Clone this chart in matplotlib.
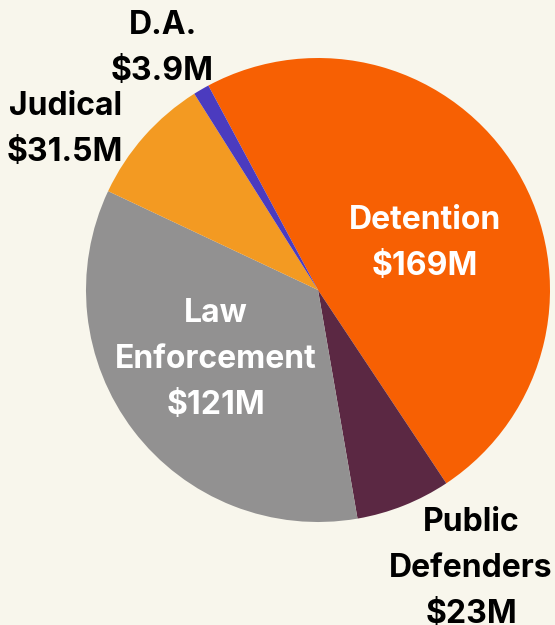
import numpy as np
import matplotlib.pyplot as plt

labels = ['Detention', 'Public\nDefenders', 'Law\nEnforcement', 'Judical', 'D.A.']
amounts = [169, 23, 121, 31.5, 3.9]
amount_text = ['$169M', '$23M', '$121M', '$31.5M', '$3.9M']
colors = ['#F76003', '#5B2843', '#929191', '#F39A22', '#4B3BBF']
text_colors = ['white', 'black', 'white', 'black', 'black']

# label placement, (x, y) offset from the pie centre in units of the radius
label_pos = [(0.46, 0.20), (0.66, -1.20), (-0.44, -0.30), (-1.09, 0.69), (-0.67, 1.04)]

bg = '#F8F6EC'
fig = plt.figure(figsize=(5.55, 6.25), dpi=100, facecolor=bg)
ax = fig.add_axes([0, 0, 1, 1])
ax.set_facecolor(bg)

cx, cy, r = 318, 335, 232
ax.pie(amounts, colors=colors, startangle=118.2, counterclock=False,
       center=(cx, cy), radius=r, frame=True,
       wedgeprops=dict(linewidth=0))

for lab, amt, tc, (dx, dy) in zip(labels, amount_text, text_colors, label_pos):
    ax.text(cx + dx * r, cy + dy * r, lab + '\n' + amt, color=tc,
            ha='center', va='center', fontsize=23, fontweight='bold',
            family='Inter', linespacing=1.62)

ax.set_xlim(0, 555)
ax.set_ylim(0, 625)
ax.set_aspect('equal')
ax.axis('off')
plt.savefig('out.png', dpi=100, facecolor=bg)
